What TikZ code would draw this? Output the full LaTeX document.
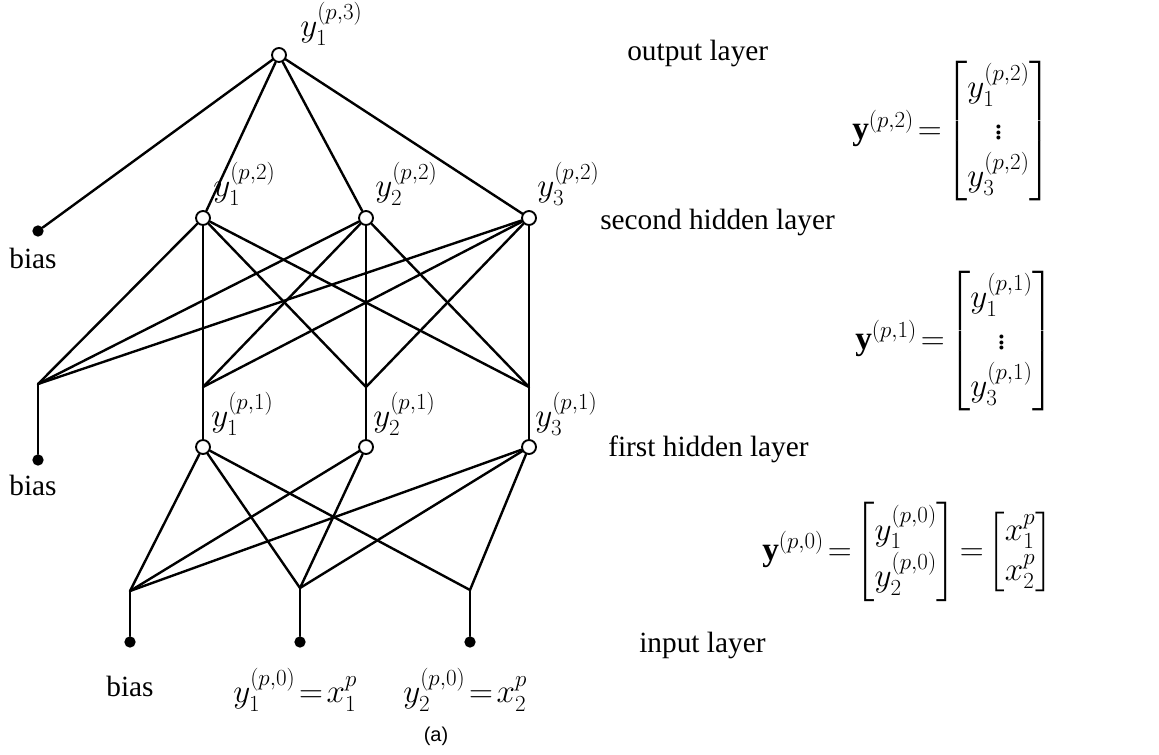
\documentclass[tikz,border=0pt]{standalone}
\usepackage{amsmath}
\usepackage{fontspec}
\setmainfont{Liberation Serif}
\setsansfont{Liberation Sans}
\newcommand{\tighteq}{\thickmuskip=2mu\relax}
\begin{document}
\begin{tikzpicture}[x=0.75pt,y=-0.75pt,
  onode/.style={circle,draw,fill=white,line width=1.4pt,minimum size=10.5pt,inner sep=0pt},
  bdot/.style={circle,fill=black,minimum size=8.5pt,inner sep=0pt},
  edge/.style={line width=1.8pt,line cap=round,line join=round},
  txt/.style={font=\fontsize{22}{26}\selectfont,inner sep=0pt},
  lbl/.style={font=\fontsize{23}{27}\selectfont,inner sep=0pt},
  eqn/.style={font=\fontsize{25}{30}\selectfont,inner sep=0pt}]
\useasboundingbox (0,0) rectangle (1159,755);
% nodes
\node[onode] (o) at (279,55) {};
\node[bdot] (b3) at (38,231) {};
\node[onode] (h21) at (203,218) {};
\node[onode] (h22) at (366,218) {};
\node[onode] (h23) at (529,218) {};
\coordinate (jb) at (38,384);
\coordinate (j1) at (203,387);
\coordinate (j2) at (366,387);
\coordinate (j3) at (529,387);
\node[bdot] (b2) at (38,460) {};
\node[onode] (h11) at (203,447) {};
\node[onode] (h12) at (366,447) {};
\node[onode] (h13) at (529,447) {};
\coordinate (i0) at (130,591);
\coordinate (i1) at (300,588);
\coordinate (i2) at (470,590);
\node[bdot] (d0) at (130,642) {};
\node[bdot] (d1) at (300,642) {};
\node[bdot] (d2) at (470,642) {};
% edges
\foreach \t in {b3,h21,h22,h23} \draw[edge] (o) -- (\t);
\foreach \s in {h21,h22,h23}{
  \foreach \t in {jb,j1,j2,j3} \draw[edge] (\s) -- (\t);
}
\draw[edge] (jb) -- (b2);
\draw[edge] (j1) -- (h11);
\draw[edge] (j2) -- (h12);
\draw[edge] (j3) -- (h13);
\foreach \t in {i0,i1,i2} \draw[edge] (h11) -- (\t);
\foreach \t in {i0,i1} \draw[edge] (h12) -- (\t);
\foreach \t in {i0,i1,i2} \draw[edge] (h13) -- (\t);
\draw[edge] (i0) -- (d0);
\draw[edge] (i1) -- (d1);
\draw[edge] (i2) -- (d2);
% labels
\node[lbl,anchor=west] (lo) at (300,24) {$y_1^{(p,3)}$};
\node[lbl,anchor=west] (l21) at (213,184) {$y_1^{(p,2)}$};
\node[lbl,anchor=west] (l22) at (375,184) {$y_2^{(p,2)}$};
\node[lbl,anchor=west] (l23) at (537,184) {$y_3^{(p,2)}$};
\node[lbl,anchor=west] (l11) at (211,414) {$y_1^{(p,1)}$};
\node[lbl,anchor=west] (l12) at (373,414) {$y_2^{(p,1)}$};
\node[lbl,anchor=west] (l13) at (535,414) {$y_3^{(p,1)}$};
\node[txt] (tb3) at (33,258) {bias};
\node[txt] (tb2) at (33,485) {bias};
\node[txt] (tb0) at (130,686) {bias};
\node[lbl,anchor=west] (li1) at (233,690) {$\tighteq y_1^{(p,0)}=x_1^p$};
\node[lbl,anchor=west] (li2) at (403,690) {$\tighteq y_2^{(p,0)}=x_2^p$};
\node[txt,anchor=west] (t3) at (627,53) {output layer};
\node[txt,anchor=west] (t2) at (600,222) {second hidden layer};
\node[txt,anchor=west] (t1) at (608,449) {first hidden layer};
\node[txt,anchor=west] (t0) at (639,645) {input layer};
\node[eqn,anchor=west] (e2) at (852,131) {$\tighteq\renewcommand{\arraystretch}{1.05}\mathbf{y}^{(p,2)}=\begin{bmatrix} y_1^{(p,2)}\\ \vdots\\ y_3^{(p,2)}\end{bmatrix}$};
\node[eqn,anchor=west] (e1) at (855,341) {$\tighteq\renewcommand{\arraystretch}{1.05}\mathbf{y}^{(p,1)}=\begin{bmatrix} y_1^{(p,1)}\\ \vdots\\ y_3^{(p,1)}\end{bmatrix}$};
\node[eqn,anchor=west] (e0) at (762,552) {$\tighteq\renewcommand{\arraystretch}{1.0}\mathbf{y}^{(p,0)}=\begin{bmatrix} y_1^{(p,0)}\\ y_2^{(p,0)}\end{bmatrix}=\begin{bmatrix} x_1^p\\ x_2^p\end{bmatrix}$};
\node[font=\sffamily\fontsize{15}{18}\selectfont,inner sep=0pt] (cap) at (436,736) {(a)};
\end{tikzpicture}
\end{document}
